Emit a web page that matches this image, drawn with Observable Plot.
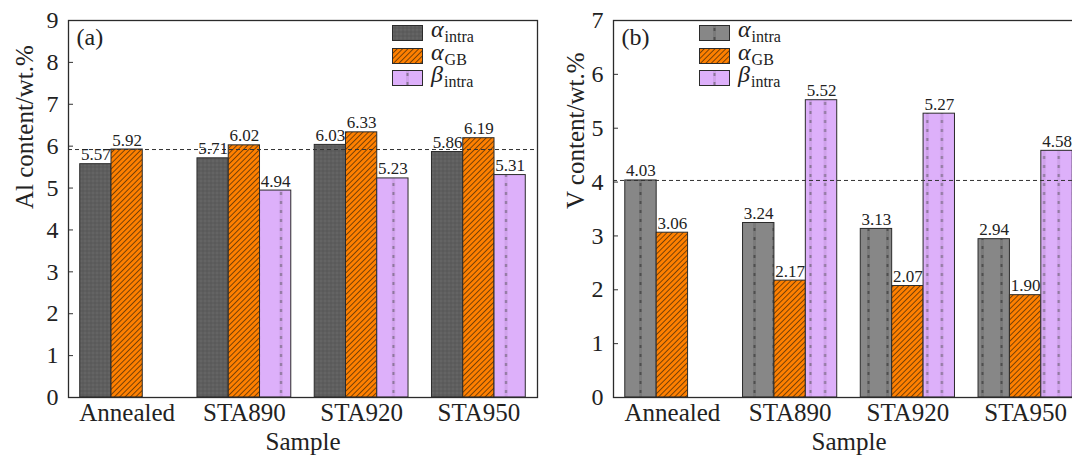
<!DOCTYPE html>
<html><head><meta charset="utf-8">
<script src="https://cdn.jsdelivr.net/npm/d3@7"></script>
<script src="https://cdn.jsdelivr.net/npm/@observablehq/plot@0.6"></script>
<style>
html,body{margin:0;padding:0;background:#fff;overflow:hidden;width:1072px;height:455px}
#wrap{position:relative;width:1072px;height:455px;overflow:hidden;font-family:'Liberation Serif','Times New Roman',serif;color:#222}
.panel{position:absolute;top:0}
.leg{position:absolute;height:16px}
.leg svg{position:absolute;left:0;top:0}
.leg .t{position:absolute;left:39px;top:-7px;white-space:nowrap;font-size:24px;line-height:22px}
.leg .t i{font-style:italic}
.leg .t sub{font-size:16px;vertical-align:baseline;position:relative;top:5px;margin-left:1px}
</style></head><body>
<svg width="0" height="0" style="position:absolute">
  <defs>
    <pattern id="grayA" patternUnits="userSpaceOnUse" width="4" height="4">
      <rect width="4" height="4" fill="#5e5e5e"/>
      <rect width="2" height="2" fill="#646464"/>
      <rect x="2" y="2" width="2" height="2" fill="#5a5a5a"/>
    </pattern>
    <pattern id="grayB" patternUnits="userSpaceOnUse" width="19" height="9">
      <rect width="19" height="9" fill="#878787"/>
      <rect x="8" y="0" width="3" height="9" fill="#7a7a7a"/>
      <rect x="8.5" y="3" width="2" height="3" fill="#4e4e4e"/>
    </pattern>
    <pattern id="orange" patternUnits="userSpaceOnUse" width="3.8" height="10" patternTransform="rotate(45)">
      <rect width="3.8" height="10" fill="#ff8000"/>
      <line x1="0.5" y1="0" x2="0.5" y2="10" stroke="#3a2408" stroke-width="0.7"/>
    </pattern>
    <pattern id="purpA" patternUnits="userSpaceOnUse" width="22.5" height="9">
      <rect width="22.5" height="9" fill="#ddb0fa"/>
      <rect x="9.5" y="0" width="3" height="9" fill="#cfa2ea"/>
      <rect x="10" y="3" width="2" height="3" fill="#8a7598"/>
    </pattern>
    <pattern id="purpB" patternUnits="userSpaceOnUse" width="14.6" height="9">
      <rect width="14.6" height="9" fill="#ddb0fa"/>
      <rect x="5.8" y="0" width="3" height="9" fill="#cfa2ea"/>
      <rect x="6.3" y="3" width="2" height="3" fill="#8a7598"/>
    </pattern>
    <pattern id="purpL" patternUnits="userSpaceOnUse" width="31" height="9">
      <rect width="31" height="9" fill="#ddb0fa"/>
      <rect x="14" y="0" width="3" height="9" fill="#cfa2ea"/>
      <rect x="14.5" y="3" width="2" height="3" fill="#8a7598"/>
    </pattern>
    <pattern id="grayL" patternUnits="userSpaceOnUse" width="31" height="9">
      <rect width="31" height="9" fill="#878787"/>
      <rect x="14" y="0" width="3" height="9" fill="#7a7a7a"/>
      <rect x="14.5" y="3" width="2" height="3" fill="#4e4e4e"/>
    </pattern>
  </defs>
</svg>
<div id="wrap"></div>
<script>
// ---- data ----
const samples = ["Annealed", "STA890", "STA920", "STA950"];
const phaseNames = ["α_intra", "α_GB", "β_intra"];
const alIntra = [5.57, 5.71, 6.03, 5.86];
const alGB    = [5.92, 6.02, 6.33, 6.19];
const alBeta  = [null, 4.94, 5.23, 5.31];
const vIntra  = [4.03, 3.24, 3.13, 2.94];
const vGB     = [3.06, 2.17, 2.07, 1.90];
const vBeta   = [null, 5.52, 5.27, 4.58];
const alTicks = [0, 1, 2, 3, 4, 5, 6, 7, 8, 9];
const vTicks  = [0, 1, 2, 3, 4, 5, 6, 7];
const alRef = [5.92];
const vRef  = [4.03];

const FONT = "'Liberation Serif','Times New Roman',serif";
const BW = 0.8 / 3;

function buildRows(series) {
  const out = [];
  samples.forEach((s, si) => series.forEach((arr, pi) => {
    const v = arr[si];
    if (v != null) out.push({sample: s, si, phase: phaseNames[pi], pi, value: v});
  }));
  return out;
}

function panel({series, ticks, ymax, ref, fills, label, ytitle, width, marginLeft, marginRight, titleDx}) {
  const rows = buildRows(series);
  const bars = fills.map((f, pi) => Plot.rectY(rows.filter(d => d.pi === pi), {
    x1: d => d.si - 0.4 + d.pi * BW,
    x2: d => d.si - 0.4 + (d.pi + 1) * BW,
    y1: 0, y2: "value",
    fill: f, stroke: "#2b2b2b", strokeWidth: 1
  }));
  return Plot.plot({
    width, height: 455,
    marginLeft, marginRight, marginTop: 20, marginBottom: 58,
    style: {fontFamily: FONT, color: "#222", background: "transparent", overflow: "visible"},
    x: {domain: [-0.5, 3.5]},
    y: {domain: [0, ymax]},
    marks: [
      ...bars,
      Plot.ruleY(ref, {stroke: "#333", strokeWidth: 1, strokeDasharray: "4,3"}),
      Plot.text(rows, {
        x: d => d.si - 0.4 + (d.pi + 0.5) * BW, y: "value",
        text: d => d.value.toFixed(2), lineAnchor: "bottom", dy: -4,
        fontSize: 17, fill: "#222"
      }),
      Plot.axisX({ticks: [0, 1, 2, 3], tickFormat: i => samples[i], tickSize: 0, tickPadding: 6, fontSize: 25, label: null}),
      Plot.axisY({ticks, tickFormat: d => String(d), tickSize: 0, tickPadding: 10, fontSize: 24, label: null}),
      Plot.axisY({ticks, tickSize: 5, dx: 5, tickFormat: () => "", label: null, stroke: "#333"}),
      Plot.text([label], {frameAnchor: "top-left", dx: 8, dy: 7, lineAnchor: "top", fontSize: 24, fill: "#222"}),
      Plot.text(["Sample"], {frameAnchor: "bottom", dy: 35, lineAnchor: "top", fontSize: 25, fill: "#222"}),
      Plot.text([ytitle], {frameAnchor: "left", rotate: -90, dx: titleDx, fontSize: 25, fill: "#222"}),
      Plot.frame({stroke: "#2b2b2b", strokeWidth: 1.3})
    ]
  });
}

const wrap = document.getElementById("wrap");

const pA = panel({series: [alIntra, alGB, alBeta], ticks: alTicks, ymax: 9, ref: alRef,
  fills: ["url(#grayA)", "url(#orange)", "url(#purpA)"], label: "(a)", ytitle: "Al content/wt.%",
  width: 555, marginLeft: 68, marginRight: 18, titleDx: -44});
pA.classList.add("panel"); pA.style.left = "0px";
wrap.appendChild(pA);

const pB = panel({series: [vIntra, vGB, vBeta], ticks: vTicks, ymax: 7, ref: vRef,
  fills: ["url(#grayB)", "url(#orange)", "url(#purpB)"], label: "(b)", ytitle: "V content/wt.%",
  width: 530, marginLeft: 58, marginRight: 1, titleDx: -38});
pB.classList.add("panel"); pB.style.left = "555px";
wrap.appendChild(pB);

// ---- legends ----
const legendItems = [
  {g: "α", sub: "intra"}, {g: "α", sub: "GB"}, {g: "β", sub: "intra"}
];
function legend(left, fills) {
  const tops = [25, 48, 70];
  legendItems.forEach((it, i) => {
    const row = document.createElement("div");
    row.className = "leg";
    row.style.left = left + "px";
    row.style.top = tops[i] + "px";
    row.innerHTML = `<svg width="32" height="16"><rect x="0.5" y="0.5" width="30" height="15" fill="${fills[i]}" stroke="#2b2b2b" stroke-width="1"/></svg><span class="t"><i>${it.g}</i><sub>${it.sub}</sub></span>`;
    wrap.appendChild(row);
  });
}
legend(392, ["url(#grayA)", "url(#orange)", "url(#purpL)"]);
legend(699, ["url(#grayL)", "url(#orange)", "url(#purpL)"]);
</script>
</body></html>
